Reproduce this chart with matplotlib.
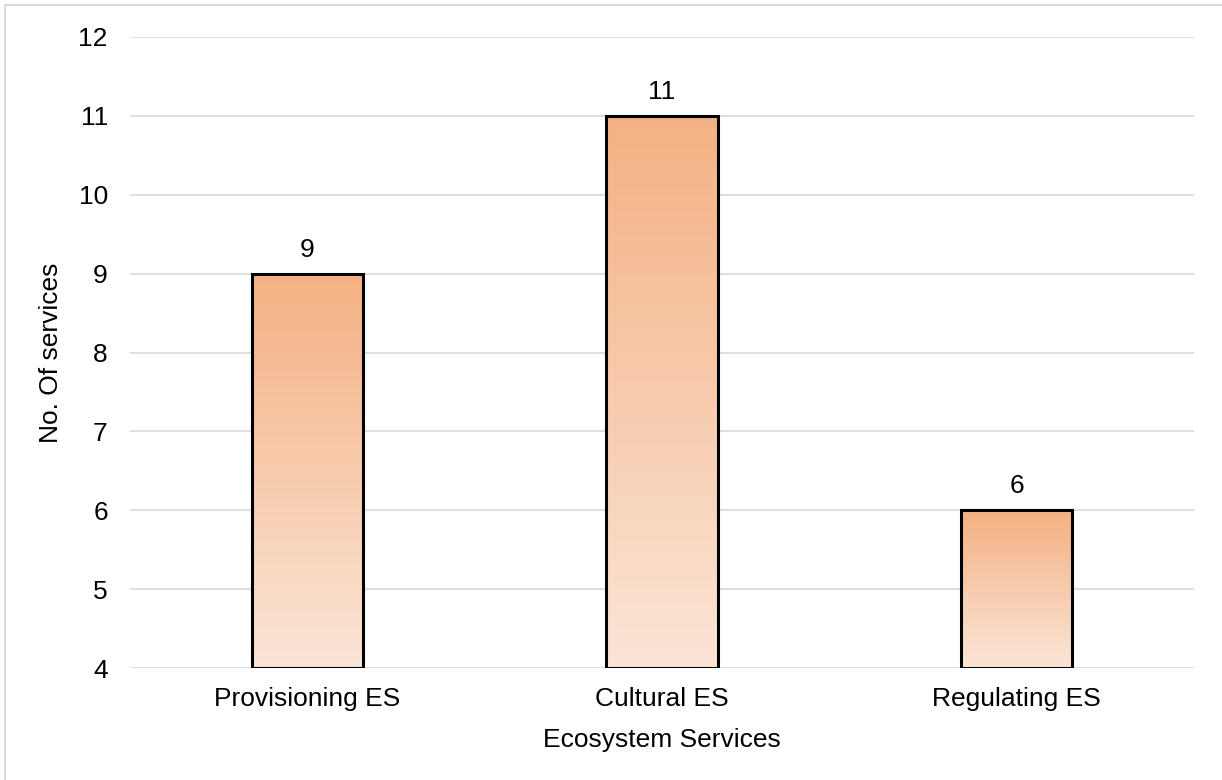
import numpy as np
import matplotlib.pyplot as plt
from matplotlib.lines import Line2D
from matplotlib.colors import LinearSegmentedColormap

plt.rcParams['font.family'] = ['Liberation Sans', 'DejaVu Sans']

categories = ['Provisioning ES', 'Cultural ES', 'Regulating ES']
values = [9, 11, 6]
yticks = [4, 5, 6, 7, 8, 9, 10, 11, 12]

fig = plt.figure(figsize=(12.22, 7.8), dpi=100)
ax = fig.add_axes([130 / 1222, 1 - 668 / 780, 1064 / 1222, 631 / 780])

# рамка (видны только левая и верхняя стороны)
fig.lines.append(Line2D([5 / 1222, 5 / 1222, 1], [0, 1 - 5 / 780, 1 - 5 / 780],
                        transform=fig.transFigure, color='#D9D9D9', linewidth=1.5))

ax.set_xlim(-0.5, 2.5)
ax.set_ylim(4, 12)
ax.set_yticks(yticks)
ax.grid(axis='y', color='#D9D9D9', linewidth=1.2)
ax.set_axisbelow(True)
for s in ax.spines.values():
    s.set_visible(False)
ax.tick_params(length=0, labelsize=19)
ax.tick_params(axis='x', pad=14)
ax.tick_params(axis='y', pad=16)

cmap = LinearSegmentedColormap.from_list('peach', ['#FBE5D6', '#F4B183'])
grad = np.linspace(0, 1, 256).reshape(-1, 1)
width = 0.313
bars = ax.bar(range(len(values)), [v - 4 for v in values], bottom=4, width=width,
              color='none', edgecolor='black', linewidth=2.2, zorder=3)
for b, v in zip(bars, values):
    x0 = b.get_x()
    im = ax.imshow(grad, cmap=cmap, origin='lower', aspect='auto',
                   extent=[x0, x0 + width, 4, v], zorder=2)
    im.set_clip_path(b)
    ax.text(b.get_x() + width / 2, v + 0.15, str(v), ha='center', va='bottom', fontsize=19)

ax.set_xticks(range(len(categories)))
ax.set_xticklabels(categories)
ax.set_xlim(-0.5, 2.5)
ax.set_ylim(4, 12)
ax.set_xlabel('Ecosystem Services', fontsize=19, labelpad=12)
ax.set_ylabel('No. Of services', fontsize=19, labelpad=11)

fig.savefig('out.png', dpi=100)
